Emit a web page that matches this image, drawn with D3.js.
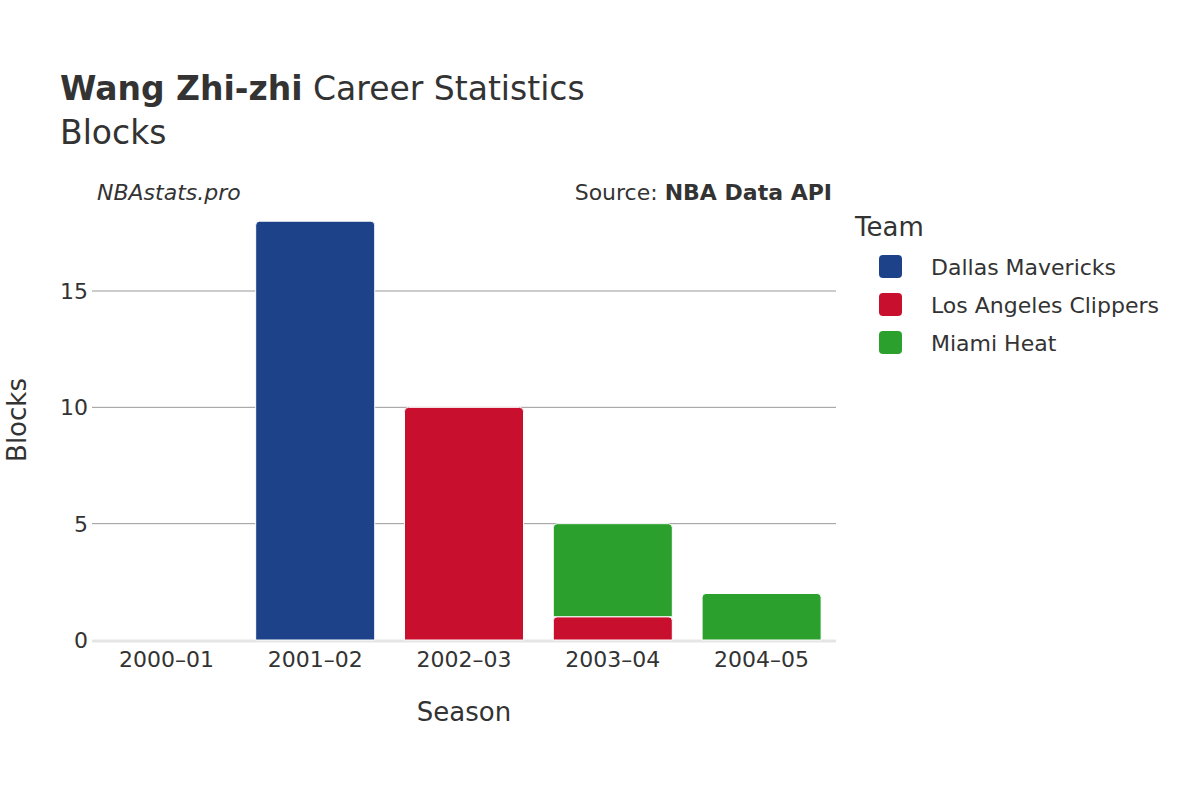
<!DOCTYPE html>
<html>
<head>
<meta charset="utf-8">
<script src="https://cdn.jsdelivr.net/npm/d3@7"></script>
<style>
  body { margin: 0; background: #fff; }
  text { font-family: "DejaVu Sans", sans-serif; fill: #333; }
</style>
</head>
<body>
<svg></svg>
<script>
const [WIDTH, HEIGHT] = [1200, 800]

const seasons = ['2000–01', '2001–02', '2002–03', '2003–04', '2004–05']
const teams = ['Dallas Mavericks', 'Los Angeles Clippers', 'Miami Heat']
const teamColors = ['#1d428a', '#c8102e', '#2ca02c']
const dallas = [0, 18, 0, 0, 0]
const clippers = [0, 0, 10, 1, 0]
const heat = [0, 0, 0, 4, 2]
const yTicks = [0, 5, 10, 15]

const svg = d3.select('svg').attr('width', WIDTH).attr('height', HEIGHT)

const x = d3.scaleBand().domain(seasons).range([92, 836]).paddingInner(0.2).paddingOuter(0.1)
const y = d3.scaleLinear().domain([0, 15]).range([640, 291])

// grid
svg.append('g').selectAll('line').data(yTicks.filter(t => t > 0)).join('line')
    .attr('x1', 92).attr('x2', 836)
    .attr('y1', d => y(d)).attr('y2', d => y(d))
    .attr('stroke', '#999').attr('stroke-width', 1)
svg.append('line').attr('x1', 92).attr('x2', 836).attr('y1', y(0) + 1).attr('y2', y(0) + 1)
    .attr('stroke', '#e5e5e5').attr('stroke-width', 3)

// stacked bars
const rows = seasons.map((s, i) => ({ season: s, d: dallas[i], c: clippers[i], h: heat[i] }))
const stack = d3.stack().keys(['d', 'c', 'h'])(rows)
stack.forEach((layer, li) => {
    svg.append('g').selectAll('path').data(layer.filter(p => p[1] - p[0] > 0)).join('path')
        .attr('fill', teamColors[li])
        .attr('stroke', '#fff').attr('stroke-width', 1)
        .attr('d', p => {
            const x0 = x(p.data.season), w = x.bandwidth()
            const yt = y(p[1]), yb = y(p[0])
            const r = Math.min(4, (yb - yt) / 2)
            return `M${x0},${yb} L${x0},${yt + r} Q${x0},${yt} ${x0 + r},${yt} L${x0 + w - r},${yt} Q${x0 + w},${yt} ${x0 + w},${yt + r} L${x0 + w},${yb} Z`
        })
})

// axes text
svg.append('g').selectAll('text').data(yTicks).join('text')
    .attr('x', 88).attr('y', d => y(d) + 8).attr('text-anchor', 'end')
    .attr('font-size', 22).text(d => d)
svg.append('g').selectAll('text').data(seasons).join('text')
    .attr('x', d => x(d) + x.bandwidth() / 2).attr('y', 667).attr('text-anchor', 'middle')
    .attr('font-size', 22).text(d => d)

svg.append('text').attr('x', 464).attr('y', 721).attr('text-anchor', 'middle')
    .attr('font-size', 26).text('Season')
svg.append('text').attr('transform', 'translate(26,420) rotate(-90)').attr('text-anchor', 'middle')
    .attr('font-size', 26).text('Blocks')

// title
const title = svg.append('text').attr('x', 60).attr('y', 100).attr('font-size', 33)
title.append('tspan').attr('font-weight', 'bold').text('Wang Zhi-zhi')
title.append('tspan').text(' Career Statistics')
svg.append('text').attr('x', 60).attr('y', 144).attr('font-size', 33).text('Blocks')

svg.append('text').attr('x', 97).attr('y', 200).attr('font-size', 22).attr('font-style', 'italic').text('NBAstats.pro')
const src = svg.append('text').attr('x', 832).attr('y', 200).attr('font-size', 22).attr('text-anchor', 'end')
src.append('tspan').text('Source: ')
src.append('tspan').attr('font-weight', 'bold').text('NBA Data API')

// legend
svg.append('text').attr('x', 855).attr('y', 236).attr('font-size', 26).text('Team')
const lg = svg.append('g').selectAll('g').data(teams).join('g')
    .attr('transform', (_, i) => `translate(879,${255 + i * 38})`)
lg.append('rect').attr('width', 23).attr('height', 23).attr('rx', 4)
    .attr('fill', (_, i) => teamColors[i])
lg.append('text').attr('x', 52).attr('y', 20).attr('font-size', 22).text(d => d)
</script>
</body>
</html>
